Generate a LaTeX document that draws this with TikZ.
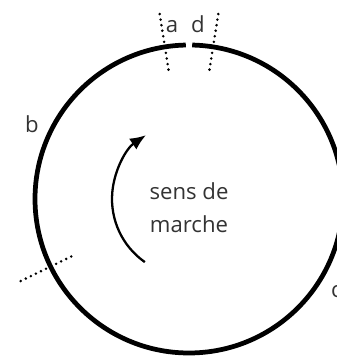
\documentclass[tikz,border=0pt]{standalone}
\usepackage{fontspec}
\setmainfont{Open Sans}
\usepackage{xcolor}
\usepackage{tikz}
\usetikzlibrary{arrows.meta}

\begin{document}
\begin{tikzpicture}[>=Latex,
    lbl/.style={text=black!80,font=\fontsize{12.6}{18.7}\selectfont,inner sep=0pt},
    cutline/.style={line width=1.6pt,dash pattern=on 0pt off 3.2pt,line cap=round}]
  \useasboundingbox (-3.78,-3.18) rectangle (2.94,3.98);
  % track, open at the top
  \draw[line width=2.7pt] (91.2:3.08) arc[start angle=91.2,end angle=448.8,radius=3.08];
  % dotted cut lines
  \draw[cutline] (99:2.62) -- (99:3.82);
  \draw[cutline] (81:2.62) -- (81:3.82);
  \draw[cutline] (206:2.62) -- (206:3.82);
  \node[lbl,anchor=base] (a) at (-0.34,3.32) {a};
  \node[lbl,anchor=base] (d) at (0.18,3.32) {d};
  \node[lbl,anchor=base] (b) at (-3.14,1.32) {b};
  \node[lbl,anchor=base] (c) at (2.95,-1.96) {c};
  % direction of travel
  \draw[->,line width=1.3pt,>={Latex[length=9pt,width=7.5pt]}] (235:1.54) arc[start angle=235,end angle=124,radius=1.54];
  \node[lbl,align=center] (sens) at (0,-0.18) {sens de\\marche};
\end{tikzpicture}
\end{document}
